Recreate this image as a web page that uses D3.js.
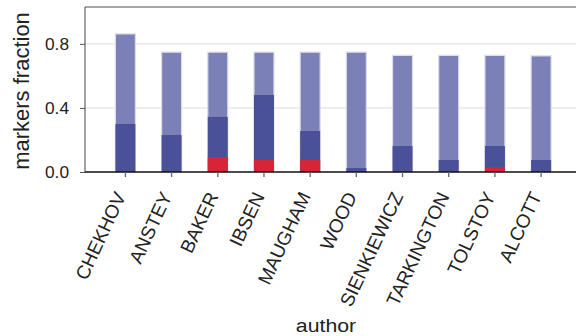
<!DOCTYPE html>
<html>
<head>
<meta charset="utf-8">
<script src="https://cdn.jsdelivr.net/npm/d3@7"></script>
<style>
  html, body { margin: 0; padding: 0; background: #fff; }
  svg { display: block; }
  text { font-family: "Liberation Sans", Arial, Helvetica, sans-serif; fill: #222; }
</style>
</head>
<body>
<svg id="chart" width="576" height="336"></svg>
<script>
// ---- data ----
const authors = ["CHEKHOV", "ANSTEY", "BAKER", "IBSEN", "MAUGHAM", "WOOD", "SIENKIEWICZ", "TARKINGTON", "TOLSTOY", "ALCOTT"];
const totalFraction  = [0.862, 0.748, 0.748, 0.748, 0.748, 0.748, 0.728, 0.728, 0.728, 0.725];
const middleFraction = [0.300, 0.231, 0.344, 0.481, 0.256, 0.025, 0.162, 0.075, 0.162, 0.075];
const redFraction    = [0.000, 0.000, 0.094, 0.075, 0.075, 0.000, 0.000, 0.000, 0.031, 0.000];
const yTicks = [0.0, 0.4, 0.8];

// ---- layout ----
const svg = d3.select("#chart");
const padL = 85, padR = 581.5, padT = 7, padB = 172;
const SX = 1.08; // slight horizontal stretch of glyphs seen in reference

const x = d3.scaleBand().domain(authors).range([padL, padR]).paddingInner(0.567).paddingOuter(0.658);
const y = d3.scaleLinear().domain([0, 1.03]).range([padB, padT]);

// gridlines
svg.append("g").selectAll("line").data(yTicks.filter(d => d > 0)).join("line")
  .attr("x1", padL).attr("x2", 576)
  .attr("y1", d => y(d)).attr("y2", d => y(d))
  .attr("stroke", "#dcdcdc").attr("stroke-width", 1);

// bars
const series = [
  { vals: totalFraction, color: "#7b81b6" },
  { vals: middleFraction, color: "#4a5199" },
  { vals: redFraction, color: "#d62536" }
];
series.forEach((s, si) => {
  svg.append("g").selectAll("rect").data(authors).join("rect")
    .attr("x", d => x(d))
    .attr("width", x.bandwidth())
    .attr("y", (d, i) => y(s.vals[i]))
    .attr("height", (d, i) => Math.max(0, y(0) - y(s.vals[i])))
    .attr("fill", s.color)
    .attr("stroke", si === 0 ? "#dcdde6" : "none")
    .attr("stroke-width", si === 0 ? 1.2 : 0)
    .attr("display", (d, i) => s.vals[i] > 0 ? null : "none");
});

// spines
svg.append("line").attr("x1", padL).attr("x2", 576).attr("y1", padT).attr("y2", padT)
  .attr("stroke", "#8a8a8a").attr("stroke-width", 1.5);
svg.append("line").attr("x1", padL).attr("x2", padL).attr("y1", padT).attr("y2", padB)
  .attr("stroke", "#444").attr("stroke-width", 1);

// y axis
const yAxis = d3.axisLeft(y).tickValues(yTicks).tickFormat(d3.format(".1f")).tickSize(5).tickPadding(0);
const gy = svg.append("g").attr("transform", `translate(${padL},0)`).call(yAxis);
gy.select(".domain").remove();
gy.selectAll(".tick line").attr("stroke", "#555");
gy.selectAll(".tick text")
  .attr("x", null).attr("dy", null)
  .attr("font-size", 16).attr("text-anchor", "end")
  .attr("dominant-baseline", "central")
  .attr("transform", `translate(-16,0.5) scale(${SX},1)`)
  .style("fill", "#222");

// x axis
const xAxis = d3.axisBottom(x).tickSize(5).tickSizeOuter(0);
const gx = svg.append("g").attr("transform", `translate(0,${padB})`).call(xAxis);
gx.select(".domain").attr("stroke", "#111").attr("stroke-width", 1.3).attr("d", `M${padL},0H576`);
gx.selectAll(".tick line").attr("stroke", "#666").attr("stroke-width", 1.3);
gx.selectAll(".tick text")
  .attr("y", null).attr("dy", null)
  .attr("font-size", 19).attr("text-anchor", "end")
  .attr("transform", `translate(1,24) rotate(-65)`)
  .style("fill", "#222");

// axis titles
svg.append("text")
  .attr("transform", `translate(28.5,91) rotate(-90)`)
  .attr("text-anchor", "middle").attr("font-size", 22)
  .text("markers fraction");
svg.append("text")
  .attr("transform", `translate(326,331.5) scale(1.12,1)`)
  .attr("text-anchor", "middle").attr("font-size", 19)
  .text("author");
</script>
</body>
</html>
